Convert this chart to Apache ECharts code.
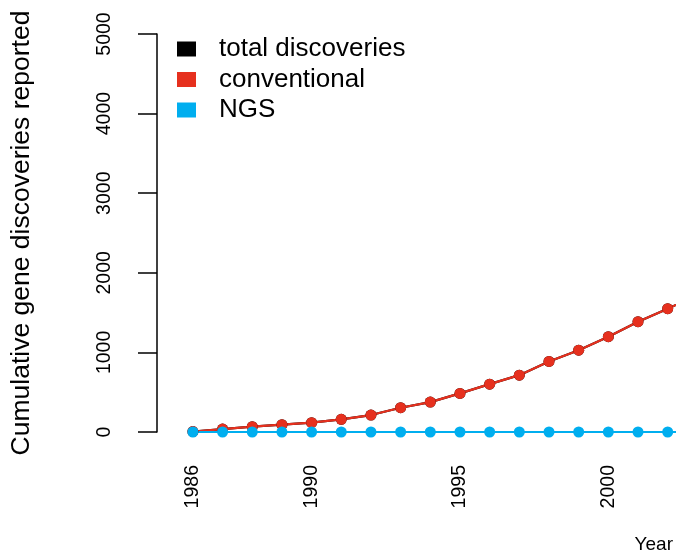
<!DOCTYPE html>
<html>
<head>
<meta charset="utf-8">
<style>
  html, body { margin: 0; padding: 0; background: #ffffff; }
  #chart { width: 676px; height: 555px; }
</style>
<script src="https://cdn.jsdelivr.net/npm/echarts@6/dist/echarts.min.js"></script>
</head>
<body>
<div id="chart"></div>
<script>
// Cumulative gene discoveries per year, by discovery method
const years = [1986, 1987, 1988, 1989, 1990, 1991, 1992, 1993, 1994, 1995, 1996, 1997, 1998, 1999, 2000, 2001, 2002, 2003];
const totalDiscoveries = [5, 37, 67, 92, 117, 159, 213, 305, 376, 485, 601, 714, 886, 1028, 1197, 1386, 1549, 1720];
const conventional = [5, 37, 67, 92, 117, 159, 213, 305, 376, 485, 601, 714, 886, 1028, 1197, 1386, 1549, 1720];
const ngs = [0, 0, 0, 0, 0, 0, 0, 0, 0, 0, 0, 0, 0, 0, 0, 0, 0, 0];

const yearTicks = [1986, 1990, 1995, 2000];
const countTicks = [0, 1000, 2000, 3000, 4000, 5000];

const seriesNames = ['total discoveries', 'conventional', 'NGS'];
const seriesColors = ['#000000', '#E6301E', '#00AEEF'];

const FONT = '"Liberation Sans", Arial, Helvetica, sans-serif';

function pairs(xs, ys) {
  return xs.map((x, i) => [x, ys[i]]);
}

function lineSeries(name, color, values) {
  return {
    name: name,
    type: 'line',
    data: pairs(years, values),
    symbol: 'circle',
    symbolSize: 11,
    lineStyle: { color: color, width: 2.2 },
    itemStyle: { color: color },
    clip: true,
    silent: true,
    animation: false
  };
}

const chart = echarts.init(document.getElementById('chart'), null, { renderer: 'canvas' });

chart.setOption({
  backgroundColor: '#ffffff',
  animation: false,
  textStyle: { fontFamily: FONT, color: '#000' },
  grid: { left: 155, right: 0, top: 34, bottom: 123, containLabel: false },
  legend: {
    orient: 'vertical',
    left: 177,
    top: 36,
    padding: 0,
    itemWidth: 19,
    itemHeight: 15,
    itemGap: 4.5,
    icon: 'rect',
    selectedMode: false,
    data: seriesNames.map((n, i) => ({ name: n, itemStyle: { color: seriesColors[i] } })),
    textStyle: {
      fontFamily: FONT,
      fontSize: 26,
      lineHeight: 26,
      color: '#000',
      padding: [0, 0, 0, 18]
    }
  },
  xAxis: {
    type: 'value',
    min: 1984.79,
    max: 2002.28,
    axisLine: { show: false },
    axisTick: { show: false },
    splitLine: { show: false },
    axisLabel: {
      customValues: yearTicks,
      rotate: 90,
      margin: 33,
      fontFamily: FONT,
      fontSize: 19.5,
      color: '#000',
      formatter: v => String(v)
    }
  },
  yAxis: {
    type: 'value',
    min: 0,
    max: 5000,
    interval: 1000,
    name: 'Cumulative gene discoveries reported',
    nameLocation: 'middle',
    nameGap: 122,
    nameTextStyle: { fontFamily: FONT, fontSize: 26.5, color: '#000' },
    axisLine: { show: true, lineStyle: { color: '#000', width: 1.5 } },
    axisTick: { show: true, length: 19, lineStyle: { color: '#000', width: 1.5 }, customValues: countTicks },
    splitLine: { show: false },
    axisLabel: {
      customValues: countTicks,
      rotate: 90,
      margin: 42,
      fontFamily: FONT,
      fontSize: 19.5,
      color: '#000',
      formatter: v => String(v)
    }
  },
  graphic: [{
    type: 'text',
    right: 3,
    top: 535,
    style: { text: 'Year', font: '19px ' + FONT, fill: '#000' }
  }],
  series: [
    lineSeries(seriesNames[0], seriesColors[0], totalDiscoveries),
    lineSeries(seriesNames[1], seriesColors[1], conventional),
    lineSeries(seriesNames[2], seriesColors[2], ngs)
  ]
});
</script>
</body>
</html>
